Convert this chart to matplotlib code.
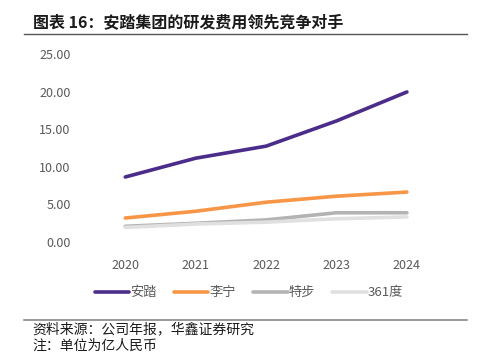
import matplotlib.pyplot as plt

plt.rcParams['font.family'] = ['Noto Sans CJK SC', 'DejaVu Sans']

years = ['2020', '2021', '2022', '2023', '2024']
anta = [8.65, 11.15, 12.75, 16.1, 19.95]
lining = [3.2, 4.1, 5.3, 6.1, 6.65]
xtep = [2.1, 2.5, 2.95, 3.9, 3.9]
t361 = [1.95, 2.4, 2.65, 3.1, 3.35]

names = ['安踏', '李宁', '特步', '361度']
colors = ['#4b2c8a', '#f79646', '#b3b3b3', '#e0e0e0']

fig = plt.figure(figsize=(4.79, 3.55), dpi=100)
ax = fig.add_axes([0.188, 0.318, 0.735, 0.530])

x = range(len(years))
for vals, name, c in zip([anta, lining, xtep, t361], names, colors):
    ax.plot(x, vals, color=c, linewidth=2.6, label=name, solid_capstyle='round')

ax.set_xlim(-0.5, len(years) - 0.5)
ax.set_ylim(0, 25)
ax.set_yticks([0, 5, 10, 15, 20, 25])
ax.set_yticklabels(['%.2f' % v for v in [0, 5, 10, 15, 20, 25]])
ax.set_xticks(list(x))
ax.set_xticklabels(years)
ax.tick_params(length=0, labelsize=9, colors='#595959', pad=12)
ax.tick_params(axis='y', pad=14)
for s in ax.spines.values():
    s.set_visible(False)

leg = fig.legend(loc='center', bbox_to_anchor=(0.52, 0.175), ncol=4, frameon=False,
                 fontsize=9.5, handlelength=2.6, handletextpad=0.1, columnspacing=1.3)
for t in leg.get_texts():
    t.set_color('#595959')

# title and rules
fig.text(0.068, 0.937, '图表 16：安踏集团的研发费用领先竞争对手', fontsize=11.5,
         fontweight='bold', color='#1a1a1a', va='center')
fig.add_artist(plt.Line2D([0.05, 0.975], [0.905, 0.905], color='#555555', linewidth=1))
fig.add_artist(plt.Line2D([0.05, 0.975], [0.098, 0.098], color='#888888', linewidth=1.2))
fig.text(0.068, 0.073, '资料来源：公司年报，华鑫证券研究', fontsize=10, color='#1a1a1a', va='center')
fig.text(0.068, 0.027, '注：单位为亿人民币', fontsize=10, color='#1a1a1a', va='center')

fig.savefig('out.png', dpi=100)
